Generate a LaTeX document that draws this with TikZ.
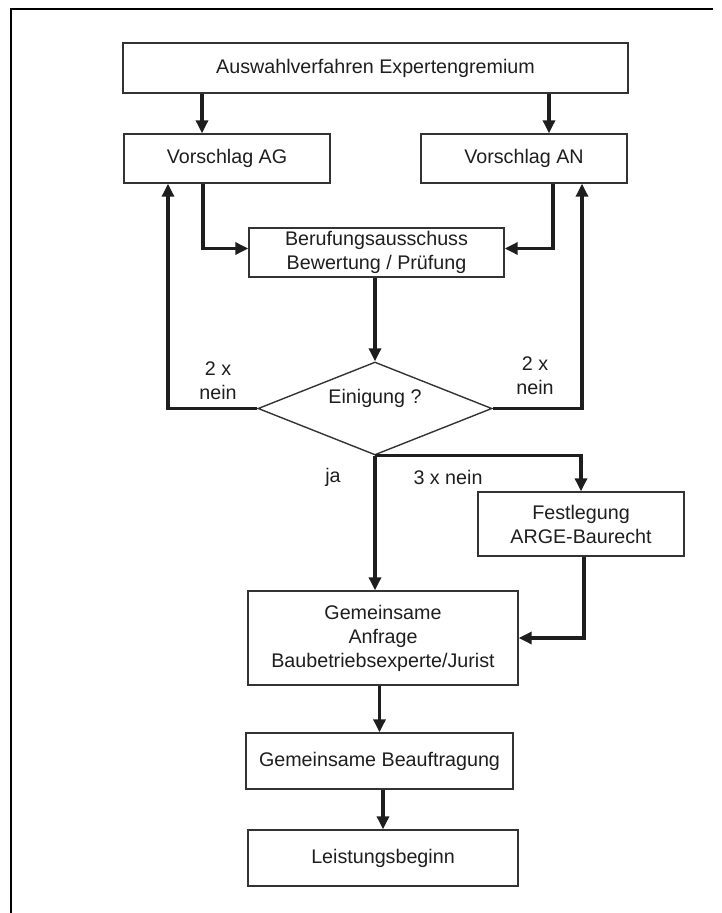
\documentclass[tikz,border=0pt]{standalone}
\usepackage{fontspec}
\setmainfont{Liberation Sans}
\usetikzlibrary{arrows.meta,shapes.geometric}
\definecolor{ink}{HTML}{1E1E1E}
\definecolor{edge}{HTML}{333333}
\begin{document}
\begin{tikzpicture}[x=1pt,y=-1pt,
  every node/.style={font=\fontsize{19.7}{24}\selectfont, text=ink},
  box/.style={draw=edge, line width=1.4pt, rectangle, inner sep=0pt, align=center},
  arr/.style={draw=ink, line width=3.2pt, -{Triangle[length=13pt,width=12pt]}},
  lbl/.style={align=center, inner sep=0pt}]
\useasboundingbox (0,0) rectangle (721,913);

% open frame: top and left edge only
\draw[line width=2.4pt, black] (11,913) -- (11,9) -- (713,9);

% process boxes
\node[box, minimum width=505pt, minimum height=50pt] (top) at (375.5,68) {Auswahlverfahren Expertengremium};
\node[box, minimum width=206pt, minimum height=49pt] (ag) at (227,158.5) {Vorschlag AG};
\node[box, minimum width=206pt, minimum height=49pt] (an) at (524,158.5) {Vorschlag AN};
\node[box, minimum width=255pt, minimum height=49pt] (ber) at (376.5,252.5) {Berufungsausschuss\\Bewertung / Prüfung};
\node[draw=edge, line width=1.4pt, diamond, minimum width=234pt, minimum height=93pt, inner sep=0pt] (dia) at (375,408.5) {};
\node[lbl] (q) at ([yshift=10pt]dia.center) {Einigung ?};
\node[box, minimum width=206pt, minimum height=64pt] (fest) at (581,524) {Festlegung\\ARGE-Baurecht};
\node[box, minimum width=270pt, minimum height=94pt] (anf) at (383,638) {Gemeinsame\\Anfrage\\Baubetriebsexperte/Jurist};
\node[box, minimum width=267pt, minimum height=56pt] (bea) at (379.5,761) {Gemeinsame Beauftragung};
\node[box, minimum width=270pt, minimum height=56pt] (lei) at (383,858) {Leistungsbeginn};

% branch labels
\node[lbl] (l2) at (218,380.5) {2 x\\nein};
\node[lbl] (r2) at (535,375.5) {2 x\\nein};
\node[lbl] (ja) at (333,477) {ja};
\node[lbl] (n3) at (448,477) {3 x nein};

% connectors
\draw[arr] ([xshift=-25pt]ag.north |- top.south) -- ([xshift=-25pt]ag.north);
\draw[arr] ([xshift=25pt]an.north |- top.south) -- ([xshift=25pt]an.north);
\draw[arr] ([xshift=-24pt]ag.south) |- ([yshift=4pt]ber.west);
\draw[arr] ([xshift=29pt]an.south) |- ([yshift=4pt]ber.east);
\draw[arr] (ber.south -| dia.north) -- (dia.north);
\draw[arr] (dia.west) -| ([xshift=-59pt]ag.south);
\draw[arr] (dia.east) -| ([xshift=58pt]an.south);
\draw[arr] (dia.south) -- (dia.south |- anf.north);
\draw[arr] (dia.south) -| (fest.north);
\draw[arr] ([xshift=3pt]fest.south) |- (anf.east);
\draw[arr] (bea.north |- anf.south) -- (bea.north);
\draw[arr] (lei.north |- bea.south) -- (lei.north);
\end{tikzpicture}
\end{document}
